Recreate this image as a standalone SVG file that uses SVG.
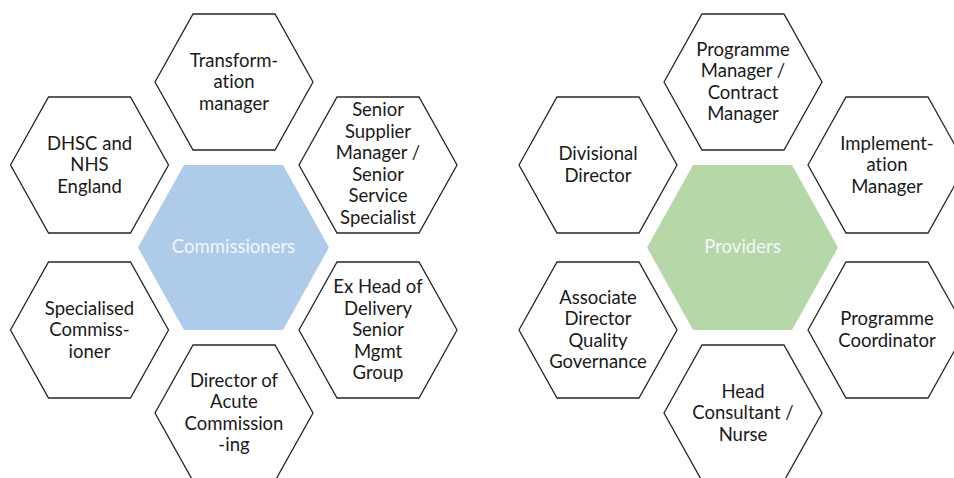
<svg xmlns="http://www.w3.org/2000/svg" xmlns:xlink="http://www.w3.org/1999/xlink" width="954" height="478" viewBox="0 0 954 478">
<style>
.hex{fill:#ffffff;stroke:#262626;stroke-width:1.3}
.t{font-family:"Lato","Liberation Sans",sans-serif;font-size:18.5px;fill:#1a1a1a;text-anchor:middle;font-variant-ligatures:none;font-feature-settings:"liga" 0}
.c{font-family:"Lato","Liberation Sans",sans-serif;font-size:18.5px;fill:#f3f7fc;text-anchor:middle;font-variant-ligatures:none;font-feature-settings:"liga" 0}
</style>
<defs>
<polygon id="sh" points="-79,0 -41,-68 41,-68 79,0 41,68 -41,68"/>
<polygon id="bh" points="-95.5,0 -49.5,-82.5 49.5,-82.5 95.5,0 49.5,82.5 -49.5,82.5"/>
</defs>
<rect width="954" height="478" fill="#ffffff"/>
<g id="connectors"/>
<g id="commissioners">
<use xlink:href="#bh" x="233.5" y="247.5" fill="#aecbea"/>
<text class="c" x="233.5" y="253">Commissioners</text>
</g>
<g id="transformation-manager">
<use xlink:href="#sh" class="hex" x="234" y="82"/>
<text class="t"><tspan x="234" y="66.5">Transform-</tspan><tspan x="234" y="88">ation</tspan><tspan x="234" y="109.5">manager</tspan></text>
</g>
<g id="dhsc">
<use xlink:href="#sh" class="hex" x="89.5" y="165"/>
<text class="t"><tspan x="89.5" y="149.5">DHSC and</tspan><tspan x="89.5" y="171">NHS</tspan><tspan x="89.5" y="192.5">England</tspan></text>
</g>
<g id="senior-supplier">
<use xlink:href="#sh" class="hex" x="378" y="165"/>
<text class="t"><tspan x="378" y="116.25">Senior</tspan><tspan x="378" y="137.75">Supplier</tspan><tspan x="378" y="159.25">Manager /</tspan><tspan x="378" y="180.75">Senior</tspan><tspan x="378" y="202.25">Service</tspan><tspan x="378" y="223.75">Specialist</tspan></text>
</g>
<g id="specialised-commissioner">
<use xlink:href="#sh" class="hex" x="89.5" y="330"/>
<text class="t"><tspan x="89.5" y="314.5">Specialised</tspan><tspan x="89.5" y="336">Commiss-</tspan><tspan x="89.5" y="357.5">ioner</tspan></text>
</g>
<g id="ex-head-of-delivery">
<use xlink:href="#sh" class="hex" x="378" y="330"/>
<text class="t"><tspan x="378" y="293">Ex Head of</tspan><tspan x="378" y="314.5">Delivery</tspan><tspan x="378" y="336">Senior</tspan><tspan x="378" y="357.5">Mgmt</tspan><tspan x="378" y="379">Group</tspan></text>
</g>
<g id="director-acute">
<use xlink:href="#sh" class="hex" x="234" y="413"/>
<text class="t"><tspan x="234" y="386.75">Director of</tspan><tspan x="234" y="408.25">Acute</tspan><tspan x="234" y="429.75">Commission</tspan><tspan x="234" y="451.25">-ing</tspan></text>
</g>
<g id="providers">
<use xlink:href="#bh" x="742.5" y="247.5" fill="#b6d7a8"/>
<text class="c" x="742.5" y="253">Providers</text>
</g>
<g id="programme-manager">
<use xlink:href="#sh" class="hex" x="743" y="82"/>
<text class="t"><tspan x="743" y="55.75">Programme</tspan><tspan x="743" y="77.25">Manager /</tspan><tspan x="743" y="98.75">Contract</tspan><tspan x="743" y="120.25">Manager</tspan></text>
</g>
<g id="divisional-director">
<use xlink:href="#sh" class="hex" x="598" y="165"/>
<text class="t"><tspan x="598" y="160.25">Divisional</tspan><tspan x="598" y="181.75">Director</tspan></text>
</g>
<g id="implementation-manager">
<use xlink:href="#sh" class="hex" x="887" y="165"/>
<text class="t"><tspan x="887" y="149.5">Implement-</tspan><tspan x="887" y="171">ation</tspan><tspan x="887" y="192.5">Manager</tspan></text>
</g>
<g id="associate-director">
<use xlink:href="#sh" class="hex" x="598" y="330"/>
<text class="t"><tspan x="598" y="303.75">Associate</tspan><tspan x="598" y="325.25">Director</tspan><tspan x="598" y="346.75">Quality</tspan><tspan x="598" y="368.25">Governance</tspan></text>
</g>
<g id="programme-coordinator">
<use xlink:href="#sh" class="hex" x="887" y="330"/>
<text class="t"><tspan x="887" y="325.25">Programme</tspan><tspan x="887" y="346.75">Coordinator</tspan></text>
</g>
<g id="head-consultant">
<use xlink:href="#sh" class="hex" x="743" y="413"/>
<text class="t"><tspan x="743" y="397.5">Head</tspan><tspan x="743" y="419">Consultant /</tspan><tspan x="743" y="440.5">Nurse</tspan></text>
</g>
</svg>
